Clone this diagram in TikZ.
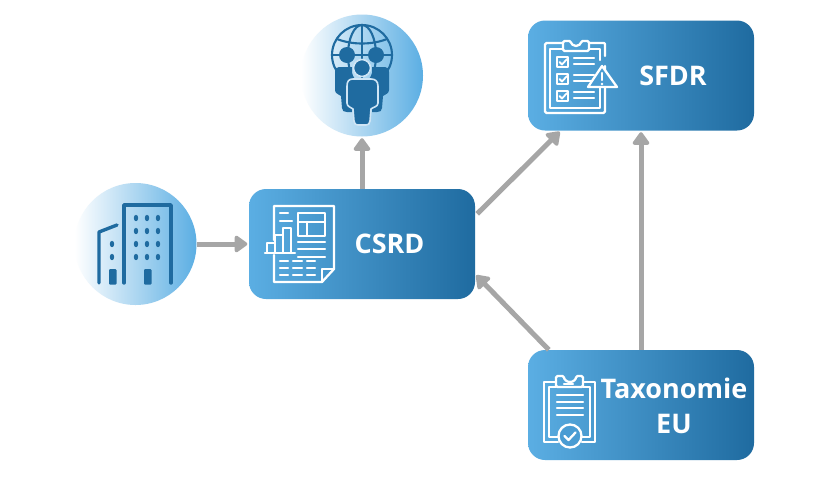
\documentclass[tikz,border=0pt]{standalone}
\usepackage{fontspec}
\setmainfont{Open Sans}
\usetikzlibrary{arrows.meta,calc}
\definecolor{boxl}{HTML}{5BAEE3}
\definecolor{boxd}{HTML}{1F6BA0}
\definecolor{boxm}{HTML}{4A9CD3}
\definecolor{gapc}{HTML}{CFE5F5}
\definecolor{arrowc}{HTML}{A6A6A6}
\tikzset{
 box/.style={rounded corners=17pt,minimum width=226pt,minimum height=110pt,inner sep=0pt,left color=boxl,right color=boxd,draw=none},
 disc/.style={circle,minimum size=122pt,inner sep=0pt,left color=white,right color=boxl,draw=none},
 boxtext/.style={text=white,font=\fontsize{27}{32}\selectfont\bfseries,inner sep=0pt,align=center},
 conn/.style={draw=arrowc,line width=5pt,-{Triangle[width=19pt,length=14pt,round]},shorten >=1.5pt},
 ink/.style={draw=white,line width=2.3pt,line cap=round,line join=round},
 dark/.style={draw=boxd,line width=3.4pt,line cap=round,line join=round},
 person/.style={fill=boxd,draw=gapc,line width=1.6pt,line join=round},
 backperson/.style={fill=boxd,draw=none},
 globe/.style={draw=boxd,line width=2.1pt},
}
\begin{document}
\begin{tikzpicture}[x=1pt,y=-1pt]
\useasboundingbox (0,0) rectangle (840,480);
\fill[white] (0,0) rectangle (840,480);
% nodes
\node[box] (sfdr) at (641,75.5) {};
\node[box] (csrd) at (362,244) {};
\node[box] (taxo) at (641,405) {};
\node[disc] (world) at (362,75.5) {};
\node[disc] (firm) at (135.5,244) {};
\node[boxtext] (sfdrlabel) at (673,76) {SFDR};
\node[boxtext] (csrdlabel) at (389.5,244) {CSRD};
\node[boxtext] (taxolabel) at (674,406) {Taxonomie\\[3pt]EU};
% connectors
\draw[conn] (firm.east) -- (csrd.west);
\draw[conn] (csrd.north) -- (world.south);
\draw[conn] ($(csrd.north east)+(2,25)$) -- ($(sfdr.south west)+(33,0)$);
\draw[conn] (taxo.north) -- (sfdr.south);
\draw[conn] ($(taxo.north west)+(21,0)$) -- ($(csrd.south east)+(0,-25)$);
% SFDR icon
\draw[ink,rounded corners=1.5pt] (563,43) -- (545,43) -- (545,113) -- (605,113) -- (605,66);
\draw[ink,rounded corners=1pt] (605,56) -- (605,43) -- (589,43);
\draw[ink] (563,49) -- (550,49) -- (550,108) -- (600,108) -- (600,72);
\draw[ink] (600,60) -- (600,49) -- (589,49);
\draw[ink,rounded corners=1.5pt] (563,51) -- (563,41) -- (571,41) arc[start angle=180,end angle=0,radius=5] -- (589,41) -- (589,51) -- cycle;
\foreach \yy in {57,74,91}{
 \draw[ink] (557,\yy) rectangle (568,\yy+10);
 \draw[ink,line width=1.8pt] (559.5,\yy+5) -- (562,\yy+7.5) -- (567,\yy+2);
 \draw[ink] (574,\yy+1) -- (594,\yy+1);
 \draw[ink] (574,\yy+7) -- (594,\yy+7);
}
\draw[ink,fill=boxm] (602,66) -- (617,87) -- (588,87) -- cycle;
\draw[ink] (602,73) -- (602,80);
\fill[white] (602,84) circle[radius=1.3];
% CSRD icon
\draw[ink] (274,240) -- (274,206) -- (334,206) -- (334,269) -- (322,282) -- (274,282) -- (274,255);
\draw[ink] (334,269) -- (322,269) -- (322,282);
\draw[ink] (298,213) rectangle (325,236);
\draw[ink] (298,222) -- (325,222) (307,222) -- (307,236);
\draw[ink] (280,213) -- (288,213) (280,221) -- (292,221);
\draw[ink] (267,253) -- (267,243) -- (275,243) -- (275,253) (275,243) -- (275,235) -- (283,235) -- (283,253) (283,228) -- (291,228) -- (291,253) (283,235) -- (283,228) (265,253) -- (295,253);
\draw[ink] (298,242) -- (325,242) (298,249) -- (325,249) (298,257) -- (325,257);
\foreach \yy in {261,268,275}{
 \draw[ink] (280,\yy) -- (288,\yy) (293,\yy) -- (302,\yy) (307,\yy) -- (315,\yy);
}
% Taxonomie icon
\draw[ink] (556,382) -- (544,382) -- (544,442) -- (558,442);
\draw[ink] (583,382) -- (595,382) -- (595,442) -- (582,442);
\draw[ink] (556,387) -- (549,387) -- (549,437) -- (558,437);
\draw[ink] (583,387) -- (590,387) -- (590,437) -- (582,437);
\draw[ink,rounded corners=1.5pt] (556,387) -- (556,376) -- (564,376) arc[start angle=180,end angle=0,radius=6] -- (583,376) -- (583,387) -- cycle;
\draw[ink] (564,384) -- (573,384);
\foreach \yy in {395,402,408,415}{\draw[ink] (557,\yy) -- (583,\yy);}
\draw[ink,fill=boxm] (570,436) circle[radius=11.5];
\draw[ink] (564.5,436) -- (568.5,440) -- (575.5,432.5);
% building icon
\draw[dark] (124,283) -- (124,205) -- (171,205) -- (171,283);
\draw[dark] (99,283) -- (99,232) -- (117,225);
\foreach \xx in {136,147,158}{\foreach \yy in {218,231,244,257}{
 \fill[boxd] (\xx,\yy) ellipse[x radius=2.2,y radius=3.2];}}
\foreach \yy in {244,257}{\fill[boxd] (112,\yy) ellipse[x radius=2.2,y radius=3.2];}
\fill[boxd,rounded corners=1pt] (109,269) rectangle (116.5,284.5);
\fill[boxd,rounded corners=1pt] (144,269) rectangle (151.5,284.5);
% world icon
\draw[globe] (362,55) circle[radius=30];
\draw[globe] (362,25) -- (362,85);
\draw[globe] (362,55) ellipse[x radius=14,y radius=30];
\draw[globe] (337,39) .. controls (352,45) and (372,45) .. (387,39);
\draw[globe] (333,55) -- (391,55);
\path[backperson] (346,67) -- (339,67) .. controls (336,67) and (335,69) .. (335,72) -- (335,90) .. controls (335,94) and (339,94) .. (341,96) -- (342,108) .. controls (342,111) and (344,112) .. (347,112) -- (352,112) -- (352,67) -- cycle;
\path[backperson] (378,67) -- (385,67) .. controls (388,67) and (389,69) .. (389,72) -- (389,90) .. controls (389,94) and (385,94) .. (383,96) -- (382,108) .. controls (382,111) and (380,112) .. (377,112) -- (372,112) -- (372,67) -- cycle;
\path[backperson] (347,55) circle[radius=8];
\path[backperson] (376,55) circle[radius=8];
\path[person] (362,68) circle[radius=8.5];
\path[person] (353,79) -- (371,79) .. controls (375,79) and (378,81) .. (378,86) -- (378,103) .. controls (378,107) and (373,107) .. (371,109) -- (370,121) .. controls (370,124) and (368,125) .. (366,125) -- (358,125) .. controls (356,125) and (354,124) .. (354,121) -- (353,109) .. controls (351,107) and (347,107) .. (347,103) -- (347,86) .. controls (347,81) and (349,79) .. (353,79) -- cycle;
\end{tikzpicture}
\end{document}
